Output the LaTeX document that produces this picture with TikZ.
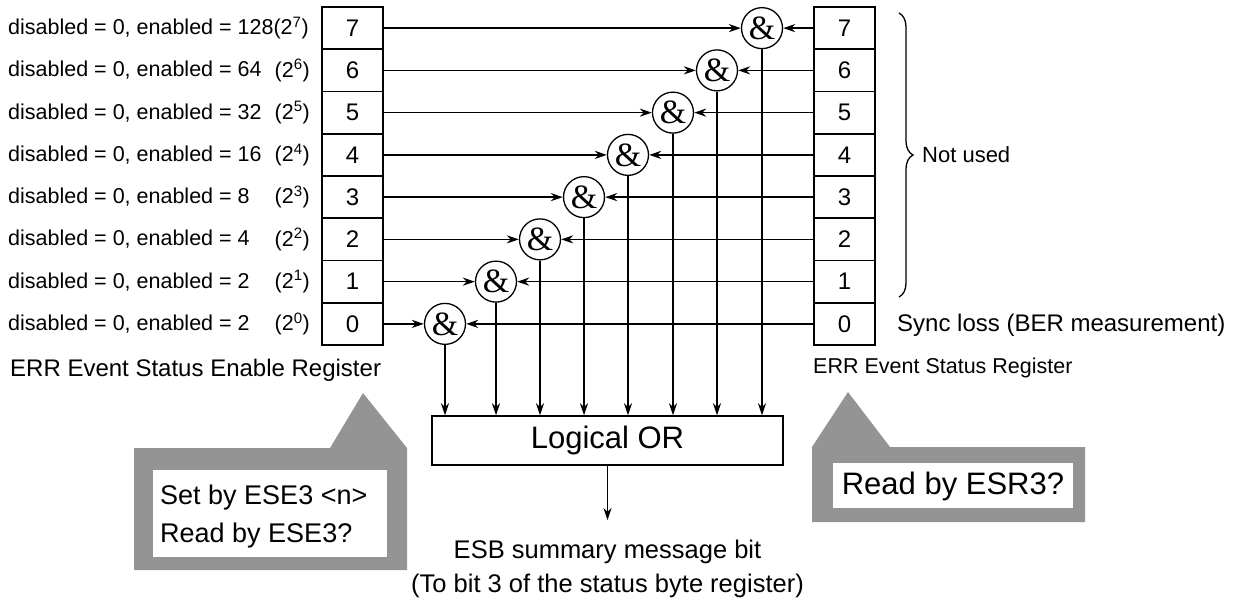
\documentclass[tikz,border=0pt]{standalone}
\usepackage{fontspec}
\setsansfont{Liberation Sans}
\newfontfamily\ampfont{Liberation Serif}
\usetikzlibrary{arrows.meta,decorations.pathreplacing}
\newcommand\setfs[1]{\fontsize{#1}{#1}\selectfont}
\begin{document}
\begin{tikzpicture}[x=1pt,y=-1pt,
  reg/.style={draw, line width=1.6pt, minimum width=61pt, minimum height=42.25pt, inner sep=0pt, font=\sffamily\setfs{24}},
  andg/.style={circle, draw, line width=1.3pt, minimum size=41pt, inner sep=0pt, fill=white, font=\ampfont\setfs{34}},
  conn/.style={line width=1.4pt, -{Stealth[length=12pt,width=8pt,inset=4pt]}},
  lbl/.style={font=\sffamily\setfs{21.5}, inner sep=0pt},
  txt/.style={inner sep=0pt, font=\sffamily\setfs{#1}},
  callout/.style={fill=black!42},
  orbox/.style={draw, line width=1.5pt, minimum width=351pt, minimum height=49pt, font=\sffamily\setfs{31}}]
\useasboundingbox (0,0) rectangle (1235,600);

% registers and AND gates
\foreach \k/\x in {0/445,1/496,2/540,3/584,4/628,5/673,6/717,7/762} {
  \pgfmathsetmacro\yc{7+42.25*(7-\k)+21.125}
  \node[reg] (L\k) at (352.5,\yc) {\k};
  \node[reg] (R\k) at (844.5,\yc) {\k};
  \node[andg] (A\k) at (\x,\yc) {\raisebox{-1pt}{\&}};
}

% Logical OR box
\node[orbox] (or) at (607.5,440.5) {Logical OR};

% connectors
\foreach \k in {0,...,7} {
  \draw[conn] (L\k.east) -- (A\k.west);
  \draw[conn] (R\k.west) -- (A\k.east);
  \draw[conn] (A\k.south) -- (A\k.south |- or.north);
}

% output
\coordinate (esbtop) at (607.5,520);
\draw[conn] (or.south) -- (esbtop);
\node[txt=25.5] (esb) at (607.5,552) {ESB summary message bit};
\node[txt=25.5] (esb2) at (607.5,586) {(To bit 3 of the status byte register)};

% left labels
\node[lbl, anchor=west] (d7) at (8,28.125) {disabled = 0, enabled = 128(2\textsuperscript{7})};
\foreach \k/\n in {6/64,5/32,4/16,3/8,2/4,1/2,0/2} {
  \pgfmathsetmacro\yc{7+42.25*(7-\k)+21.125}
  \node[lbl, anchor=west] (d\k) at (8,\yc) {disabled = 0, enabled = \n};
  \node[lbl, anchor=east] (p\k) at (310,\yc) {(2\textsuperscript{\k})};
}

% register titles
\node[txt=24, anchor=west] (errE) at (10,370) {ERR Event Status Enable Register};
\node[txt=21.5, anchor=west] (errS) at (813,368) {ERR Event Status Register};
\node[txt=24, anchor=west] (sync) at (897,325) {Sync loss (BER measurement)};

% brace
\coordinate (bt) at (899,13);
\coordinate (bb) at (899,297);
\draw[line width=1.3pt, decorate, decoration={brace, amplitude=14pt}] (bt) -- (bb);
\node[txt=22, anchor=west] (nu) at (922,155) {Not used};

% left callout
\fill[callout] (134,448) -- (330,448) -- (363,393) -- (407,448) -- (407,570) -- (134,570) -- cycle;
\fill[white] (153,470) rectangle (387,557);
\node[txt=27, anchor=west] (set) at (160,498) {Set by ESE3 <n>};
\node[txt=27, anchor=west] (rd) at (160,536) {Read by ESE3?};

% right callout
\fill[callout] (812,447) -- (848,392) -- (890,447) -- (1085,447) -- (1085,522) -- (812,522) -- cycle;
\fill[white] (833,463) rectangle (1073,508);
\node[txt=31] (esr) at (953,486) {Read by ESR3?};
\end{tikzpicture}
\end{document}
